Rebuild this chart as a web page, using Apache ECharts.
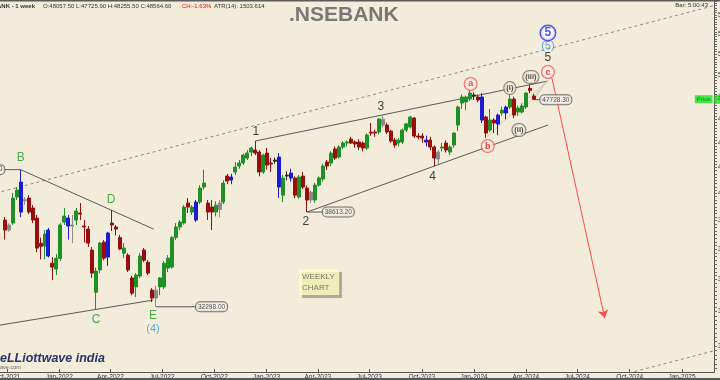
<!DOCTYPE html>
<html><head><meta charset="utf-8">
<style>html,body{margin:0;padding:0;background:#F4ECDA;}#c{width:720px;height:380px;}</style>
<script src="https://cdn.jsdelivr.net/npm/echarts/dist/echarts.min.js"></script>
</head><body><div id="c"></div>
<script>
// ================= DATA =================
const firstWeek = '2021-09-27';   // weekly candles, one per Monday
const open = [38035,37324,37820,39721,40861,39450,39647,38905,38178,36400,
36215,37324,35065,34680,35380,37891,38178,37612,38035,38540,
37612,37395,35942,33200,34620,36485,35470,37820,37540,36797,
35730,35600,34100,33530,34227,35942,35130,33326,32830,33530,
33530,34744,34806,36797,37540,37820,39275,38613,38035,39349,
40478,39275,38979,38613,38800,39349,41327,41016,41640,42113,
42353,42754,43241,43405,43241,41640,43159,42353,42500,42835,
39865,41330,41562,41170,39721,41327,40400,39500,39500,40630,
41093,42433,42353,43490,42835,43651,43981,44315,44064,44064,
43981,43569,44903,44903,44903,46000,45499,44987,44230,43981,
44064,45072,45329,46100,44566,44566,44064,44230,43651,42674,
43569,43981,43241,43814,45499,47428,47518,47788,48063,47970,
47970,46192,45072,45930,45585,46543,46543,47071,47788,46630,
46630,47071,48750,48057.5];
const high = [38250,37800,40022,40480,41829,39721,39865,39120,38400,36797,
37324,37470,35470,35670,37820,38906,38395,38395,38906,39275,
38035,37612,36146,34776,36500,36624,37200,38765,37683,36980,
36417,35730,34227,34413,35730,36077,35260,33455,33600,34163,
35200,35600,36900,37820,38035,39120,39647,39120,39500,40630,
41829,39500,39500,39400,39500,41000,41500,41500,42433,42600,
43100,43400,43700,44151,43400,43100,43569,42754,42800,43159,
41405,41700,41900,41300,41400,41640,40600,40200,40800,41300,
42300,42600,43300,43700,43800,44150,44200,44500,44200,44300,
44100,44800,45672,45100,46100,46369,45700,45100,44400,44400,
45200,45700,46310,46200,44800,44800,44600,44500,43800,43400,
44000,44200,43800,44900,47200,48200,48100,48636,48400,48200,
48330,46300,46900,46100,46500,47100,47200,48161,48000,47200,
47400,48400,49057,48255.5];
const low = [36659,37200,37683,39500,38250,39150,38470,37820,35802,35320,
35320,35450,33960,34290,35200,37683,36659,36417,37683,38035,
36450,36150,34100,32155,34400,35260,34890,37250,36950,35942,
35400,34478,33010,32894,34100,35130,34290,32580,32298,33010,
33400,34478,34700,36620,37300,37700,38540,38400,37900,39200,
40300,38035,37324,38300,38250,39200,40700,40700,41405,41900,
42200,42600,42900,43000,41300,41500,41829,41640,42300,39650,
39349,41000,40900,39647,39600,40330,38613.2,39275,39300,40500,
40900,41800,42100,42600,42700,43500,43700,43900,43600,43405,
43300,43400,44600,44500,44700,45300,44740,44000,43600,43700,
43900,44900,45200,44400,44300,44000,43700,43400,42105,42300,
43300,43200,43000,43600,45000,46900,46800,47600,47700,47500,
45672,44429,44900,44818,44633,46300,46000,46900,46100,46300,
46500,46900,48300,47725.9];
const close = [37324,37683,39647,40250,38613,39520,38613,38035,36077,36200,
37044,35540,34806,35380,37683,38322,37612,37683,38686,38470,
37540,36417,34413,34544,36417,35400,37113,37683,37395,36009,
36077,34620,33136,34290,35540,35260,34413,32830,33326,34100,
35065,35400,36797,37540,37891,38979,38979,38979,39349,40400,
40784,38613,38613,39120,39275,40784,40938,41250,42034,42353,
42997,43159,43569,43159,41640,42997,42194,42273,42594,40478,
41170,41400,41170,39865,41250,40478,39500,40085,40630,41170,
42113,42113,43159,42754,43651,43981,44064,43981,43897,43651,
43569,44651,44818,44818,46018,45500,44903,44147,43814,44230,
45072,45600,46192,44566,44482,44400,44230,43651,42754,43241,
43651,43405,43651,44818,47071,47970,47970,48330,48159,47700,
45930,44818,45930,45672,46366,46805,47071,47788,46366,46982,
47160,48330,48564.6,47773.25];
const lastPrice = 47773.25;

const quarterTicks = ['2021-10-01','2022-01-01','2022-04-01','2022-07-01','2022-10-01','2023-01-01',
  '2023-04-01','2023-07-01','2023-10-01','2024-01-01','2024-04-01','2024-07-01','2024-10-01','2025-01-01'];
const priceTicks = [30000,32000,34000,36000,38000,40000,42000,44000,46000,48000,50000,52000,54000,56000];

// wave labels: [text, date, price, kind]
const waveLabels = [
  ['B','2021-10-25',42757,'green'], ['D','2022-04-02',39500,'green'],
  ['C','2022-03-07',31500,'green'], ['E','2022-06-15',31733,'green'],
  ['(4)','2022-06-15',30964,'lblue'],
  ['1','2022-12-13',44903,'black'], ['2','2023-03-11',37891,'black'],
  ['3','2023-07-21',47071,'black'], ['4','2023-10-20',41249,'black'],
  ['a','2023-12-26',49163,'redc'], ['b','2024-01-25',43733,'redc'],
  ['(i)','2024-03-04',48792,'blackc'], ['(ii)','2024-03-20',45072,'blackc'],
  ['(iii)','2024-04-10',49815,'blackc'], ['c','2024-05-10',50286,'redc'],
  ['5','2024-05-10',51634,'black'], ['(5)','2024-05-10',52811,'lblue'],
  ['5','2024-05-10',54128,'bluec']
];
// price tags: [text, date, price]
const priceTags = [['41829.60','2021-08-30',41829.6], ['32298.00','2022-09-26',32298],
  ['38613.20','2023-05-07',38613.2], ['47728.30','2024-05-24',47728.3]];
// trend lines (date, price)
const solidLines = [
  [['2021-08-30',41829.6],['2021-10-25',41829.6],['2022-06-16',37394]],
  [['2021-09-01',31102],['2022-06-15',32706]],
  [['2022-06-20',32298],['2022-09-26',32298]],
  [['2022-12-12',44151],['2024-05-10',49441]],
  [['2023-03-13',38613.2],['2024-05-10',45502]],
  [['2023-03-13',38613.2],['2023-05-07',38613.2]],
  [['2024-04-15',47728.3],['2024-05-24',47728.3]]
];
const dashedLines = [
  [['2021-09-01',39902],['2025-03-31',57518]],
  [['2024-08-09',28099],['2025-03-31',29994]]
];
const faintLines = [
  [['2024-01-22',44429],['2024-05-10',49532]],
  [['2024-03-18',46300],['2024-05-10',49532]],
  [['2024-04-15',47725.9],['2024-05-10',49532]]
];
const projection = [['2024-05-17',49723],['2024-08-18',31614]];
const weeklyNote = ['WEEKLY\nCHART','2023-02-27',33836];

// ================= CHART =================
const MON = ['Jan','Feb','Mar','Apr','May','Jun','Jul','Aug','Sep','Oct','Nov','Dec'];
const ln = Math.log;
const T = s => Date.parse(s + 'T00:00:00Z');
const DAY = 864e5;
const FONT = 'Liberation Sans, Arial, sans-serif';
const weekDates = open.map((_, i) => T(firstWeek) + i * 7 * DAY);

const COL = {up:'#1f9026', down:'#980e0d', blue:'#1b1bd6', grey:'#8a8a8a', black:'#2a2a2a'};
const blueIdx = new Set([4,11,16,26,48,57,69,72,106,120,124,126]);
const greyIdx = new Set([1,5,17,38,54,77,95,109]);
const blackIdx = new Set([68,71,118]);

const candles = open.map((o, i) => {
  let c = close[i] >= o ? COL.up : COL.down;
  if (blueIdx.has(i)) c = COL.blue; else if (greyIdx.has(i)) c = COL.grey; else if (blackIdx.has(i)) c = COL.black;
  return {value:[weekDates[i], ln(o), ln(close[i]), ln(low[i]), ln(high[i])],
    itemStyle:{color:c, color0:c, borderColor:c, borderColor0:c, borderWidth:1}};
});

const P = p => [T(p[0]), ln(p[1])];
const lineSeries = (pts, style, z) => ({type:'line', data: pts.map(P), symbol:'none', silent:true,
  lineStyle: style, z: z, clip: true});

const LBL = {
  green: {color:'#1e9e1e', fontSize:12},
  black: {color:'#111', fontSize:12},
  lblue: {color:'#2f9be6', fontSize:11},
  redc: {color:'#e8141e', fontSize:9, fontWeight:'bold', backgroundColor:'#fbefe6', borderColor:'#f0484b',
         borderWidth:1, borderRadius:6, width:12, height:12, lineHeight:12, align:'center', verticalAlign:'middle'},
  blackc: {color:'#222', fontSize:7.5, fontWeight:'bold', backgroundColor:'#f4ecda', borderColor:'#666',
         borderWidth:1, borderRadius:6, padding:[1,2,1,2], lineHeight:10},
  bluec: {color:'#2a2af0', fontSize:12, fontWeight:'bold', backgroundColor:'#ffffff', borderColor:'#2a2af0',
         borderWidth:1.5, borderRadius:8, width:14, height:14, lineHeight:14, align:'center', verticalAlign:'middle'}
};

const series = [];
dashedLines.forEach(l => series.push(lineSeries(l, {color:'#8a8a8a', width:1, type:[3,3]}, 1)));
solidLines.forEach(l => series.push(lineSeries(l, {color:'#5a5a5a', width:1}, 2)));
faintLines.forEach(l => series.push(lineSeries(l, {color:'#cbc3b3', width:0.8}, 2)));
series.push({
  type:'candlestick', barWidth:3.5, z:3,
  dimensions:['t','open','close','lowest','highest'],
  encode:{x:'t', y:['open','close','lowest','highest']},
  data: candles,
  markLine:{silent:true, symbol:['none','arrow'], symbolSize:8, animation:false,
    lineStyle:{color:'#ff4a4a', width:1, type:'solid'}, label:{show:false},
    data:[[{coord:P(projection[0])},{coord:P(projection[1])}]]}
});
series.push({
  type:'scatter', z:6, clip:false, symbol:'circle', symbolSize:1, silent:true,
  itemStyle:{color:'rgba(0,0,0,0)'},
  data: waveLabels.map(w => ({value:P([w[1], w[2]]),
    label:Object.assign({show:true, position:'inside', formatter:w[0], fontFamily:FONT}, LBL[w[3]])}))
});
series.push({
  type:'scatter', z:7, clip:false, symbol:'circle', symbolSize:1, silent:true,
  itemStyle:{color:'rgba(0,0,0,0)'},
  data: priceTags.map(t => ({value:P([t[1], t[2]]),
    label:{show:true, position:'inside', formatter:t[0], fontFamily:FONT, fontSize:6.5, color:'#222',
      backgroundColor:'#f8f4ec', borderColor:'#555', borderWidth:1, borderRadius:4, padding:[1,2,1,2]}}))
  .concat([{value:P([weeklyNote[1], weeklyNote[2]]),
    label:{show:true, position:'inside', formatter:weeklyNote[0], fontFamily:FONT, fontSize:8, color:'#5a5a5a',
      align:'left', lineHeight:11, backgroundColor:'#ffffc2', padding:[2,3,2,3], width:34,
      shadowColor:'rgba(0,0,0,0.35)', shadowOffsetX:3, shadowOffsetY:3, shadowBlur:0}}])
});

const xMin = Date.UTC(2021,8,18,16,20), xMax = Date.UTC(2025,1,26,7,0);
const yMin = ln(28558), yMax = ln(57604);

series.push({
  type:'scatter', z:8, clip:false, symbol:'circle', symbolSize:1, silent:true,
  itemStyle:{color:'rgba(0,0,0,0)'},
  data:[
    {value:[xMax, ln(lastPrice)], label:{show:true, position:'left', distance:1, formatter:'Price', fontFamily:FONT,
      fontSize:6, color:'#063', backgroundColor:'#19e619', padding:[1,2,1,2]}},
    {value:[xMax, ln(lastPrice)], label:{show:true, position:'right', distance:0, formatter:String(lastPrice), fontFamily:FONT,
      fontSize:7, color:'#063', backgroundColor:'#19e619', padding:[1,2,1,3]}}
  ]
});

const minorTicks = [];
for (let v = 28500; v <= 57500; v += 250) minorTicks.push(ln(v));

const chart = echarts.init(document.getElementById('c'), null, {width:720, height:380});
chart.setOption({
  animation:false,
  backgroundColor:'#F4ECDA',
  grid:{left:0, right:6, top:0, bottom:8, containLabel:false, outerBoundsMode:'none'},
  xAxis:{type:'value', min:xMin, max:xMax, splitLine:{show:false},
    axisLine:{show:true, onZero:false, lineStyle:{color:'#555', width:1}},
    axisTick:{show:true, inside:true, length:3, customValues:quarterTicks.map(T), lineStyle:{color:'#555'}},
    axisLabel:{customValues:quarterTicks.map(T), fontSize:6.5, color:'#333', margin:2, fontFamily:FONT,
      formatter:v => { const d = new Date(v); return MON[d.getUTCMonth()] + '-' + d.getUTCFullYear(); }}},
  yAxis:{type:'value', position:'right', min:yMin, max:yMax, splitLine:{show:false},
    axisLine:{show:true, lineStyle:{color:'#555', width:1}},
    axisTick:{show:true, length:3, customValues:minorTicks, lineStyle:{color:'#666'}},
    axisLabel:{customValues:priceTicks.map(ln), fontSize:6.5, color:'#333', margin:4, fontFamily:FONT,
      formatter:v => String(Math.round(Math.exp(v)))}},
  series: series,
  graphic:[
    {type:'rect', shape:{x:0,y:0,width:720,height:1.5}, style:{fill:'#5a5a5a'}, z:100},
    {type:'rect', shape:{x:0,y:378,width:720,height:2}, style:{fill:'#5a5a5a'}, z:100},
    {type:'text', x:35, y:6, z:100, style:{text:'NSEBANK - 1 week', font:'bold 6px ' + FONT, fill:'#333',
      align:'right', textAlign:'right', verticalAlign:'middle', textVerticalAlign:'middle'}},
    {type:'text', x:43, y:6, z:100, style:{text:'O:48057.50 L:47725.90 H:48255.50 C:48564.60', font:'6px ' + FONT, fill:'#333',
      verticalAlign:'middle', textVerticalAlign:'middle'}},
    {type:'text', x:182, y:6, z:100, style:{text:'CH:-1.63%', font:'6px ' + FONT, fill:'#e01010',
      verticalAlign:'middle', textVerticalAlign:'middle'}},
    {type:'text', x:214, y:6, z:100, style:{text:'ATR(14): 1503.614', font:'6px ' + FONT, fill:'#333',
      verticalAlign:'middle', textVerticalAlign:'middle'}},
    {type:'text', x:289, y:15, z:100, style:{text:'.NSEBANK', font:'bold 21px ' + FONT, fill:'#787878',
      verticalAlign:'middle', textVerticalAlign:'middle'}},
    {type:'text', x:708, y:5, z:100, style:{text:'Bar: 5:00:43', font:'6px ' + FONT, fill:'#333',
      align:'right', textAlign:'right', verticalAlign:'middle', textVerticalAlign:'middle'}},
    {type:'text', x:0, y:359, z:100, style:{text:'eLLiottwave india', font:'italic bold 12.5px ' + FONT, fill:'#25366a',
      verticalAlign:'middle', textVerticalAlign:'middle'}},
    {type:'text', x:0, y:367, z:100, style:{text:'ave.com', font:'5.5px ' + FONT, fill:'#666',
      verticalAlign:'middle', textVerticalAlign:'middle'}}
  ]
});
</script></body></html>
